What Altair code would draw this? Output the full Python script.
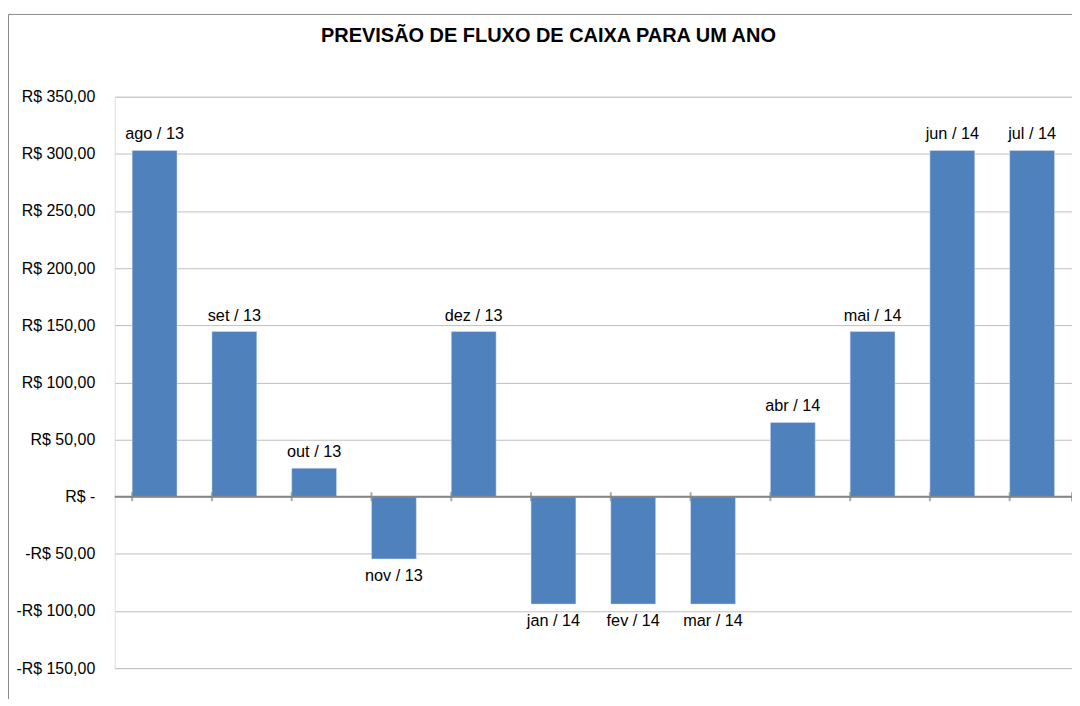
import altair as alt
import pandas as pd

meses = ["ago / 13", "set / 13", "out / 13", "nov / 13", "dez / 13", "jan / 14",
         "fev / 14", "mar / 14", "abr / 14", "mai / 14", "jun / 14", "jul / 14"]
valores = [303, 144.5, 25, -54.5, 144.5, -94, -94, -94, 65, 144.5, 303, 303]
y_ticks = [-150, -100, -50, 0, 50, 100, 150, 200, 250, 300, 350]

df = pd.DataFrame({"mes": meses, "valor": valores})

FONT = "Liberation Sans"
W, H = 960, 573

xscale = alt.Scale(domain=meses, paddingInner=0.4375, paddingOuter=0.21875)
yscale = alt.Scale(domain=[-150, 350], nice=False, zero=False)

label_expr = ("datum.value == 0 ? 'R$ -' : (datum.value < 0 ? '-R$ ' : 'R$ ') + "
              "replace(format(abs(datum.value), '.2f'), '.', ',')")

base = alt.Chart(df)

bars = base.mark_bar(color="#4F81BD", stroke="#DCE6F2", strokeWidth=0.5).encode(
    x=alt.X("mes:N", scale=xscale, sort=meses,
            axis=alt.Axis(labels=False, ticks=False, domain=False, title=None, grid=False)),
    y=alt.Y("valor:Q", scale=yscale,
            axis=alt.Axis(values=y_ticks, labelExpr=label_expr, title=None,
                          domain=False, ticks=False, grid=True,
                          gridColor="#BFBFBF", gridWidth=1,
                          labelFont=FONT, labelFontSize=16, labelColor="#000000",
                          labelPadding=20)),
)

pos_labels = base.transform_filter("datum.valor >= 0").mark_text(
    font=FONT, fontSize=16.3, color="#000000", baseline="alphabetic", dy=-11
).encode(x=alt.X("mes:N", scale=xscale, sort=meses), y="valor:Q", text="mes:N")

neg_labels = base.transform_filter("datum.valor < 0").mark_text(
    font=FONT, fontSize=16.3, color="#000000", baseline="alphabetic", dy=22
).encode(x=alt.X("mes:N", scale=xscale, sort=meses), y="valor:Q", text="mes:N")

zero_line = alt.Chart(pd.DataFrame({"z": [0]})).mark_rule(
    color="#868686", strokeWidth=2
).encode(y=alt.Y("z:Q", scale=yscale))

ticks = base.mark_tick(color="#868686", orient="vertical", size=9, thickness=2).encode(
    x=alt.X("mes:N", scale=xscale, sort=meses, bandPosition=0),
    y=alt.datum(0),
)
last_tick = alt.Chart(pd.DataFrame({"z": [0]})).mark_tick(
    color="#868686", orient="vertical", size=9, thickness=2
).encode(x=alt.value(W), y=alt.Y("z:Q", scale=yscale))

border = alt.Chart(pd.DataFrame({"z": [0]})).mark_rect(
    fill=None, stroke="#8C8C8C", strokeWidth=1
).encode(x=alt.value(-106.5), x2=alt.value(1200), y=alt.value(-82.5), y2=alt.value(900))

chart = alt.layer(border, bars, zero_line, ticks, last_tick, pos_labels, neg_labels).properties(
    width=W, height=H,
    title=alt.Title("PREVISÃO DE FLUXO DE CAIXA PARA UM ANO", font=FONT, fontSize=20,
                    fontWeight="bold", color="#000000", anchor="middle", frame="group",
                    baseline="alphabetic", dx=-45, dy=48, offset=0),
    autosize=alt.AutoSizeParams(type="none"),
    padding={"left": 107, "top": 88, "right": 0, "bottom": 30},
).configure_view(stroke=None).configure(background="white")

chart.save("out.html", embed_options={"renderer": "svg", "actions": False})
